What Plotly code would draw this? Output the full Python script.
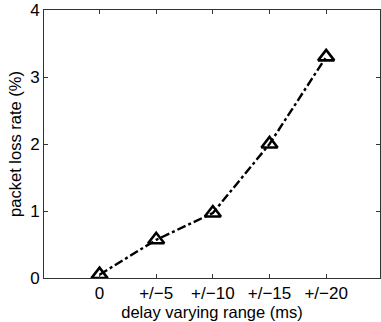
import plotly.graph_objects as go

categories = ["0", "+/\u22125", "+/\u221210", "+/\u221215", "+/\u221220"]
loss_rate = [0.05, 0.57, 0.97, 2.0, 3.3]
y_ticks = [0, 1, 2, 3, 4]

x_pos = list(range(len(categories)))

fig = go.Figure()
fig.add_trace(go.Scatter(
    x=x_pos, y=loss_rate, mode="lines+markers",
    line=dict(color="black", width=2.4, dash="dashdot"),
    marker=dict(symbol="triangle-up-open", size=14, color="black", line=dict(width=2.6, color="black")),
    showlegend=False,
))

tick_font = dict(family="Liberation Sans, Arial, sans-serif", size=17, color="black")
title_font = dict(family="Liberation Sans, Arial, sans-serif", size=16.5, color="black")
fig.update_layout(
    width=381, height=322,
    margin=dict(l=44, r=1, t=10, b=44),
    paper_bgcolor="white", plot_bgcolor="white",
    font=tick_font,
    xaxis=dict(
        tickmode="array", tickvals=x_pos, ticktext=categories,
        range=[-0.98, 4.95], showgrid=False, zeroline=False,
        showline=True, linecolor="#333", linewidth=1, mirror="ticks",
        ticks="inside", ticklen=4, tickcolor="#333",
        title=dict(text="delay varying range (ms)", standoff=0, font=title_font),
        tickfont=tick_font, automargin=False,
    ),
    yaxis=dict(
        tickmode="array", tickvals=y_ticks,
        range=[0, 4], showgrid=False, zeroline=False,
        showline=True, linecolor="#333", linewidth=1, mirror="ticks",
        ticks="inside", ticklen=4, tickcolor="#333",
        title=dict(text="packet loss rate (%)", standoff=4, font=title_font),
        tickfont=tick_font, automargin=False,
    ),
)
fig.write_html(
    "out.html",
    config={"displayModeBar": False},
    post_script="document.body.style.margin='0';document.body.style.overflow='hidden';",
)
